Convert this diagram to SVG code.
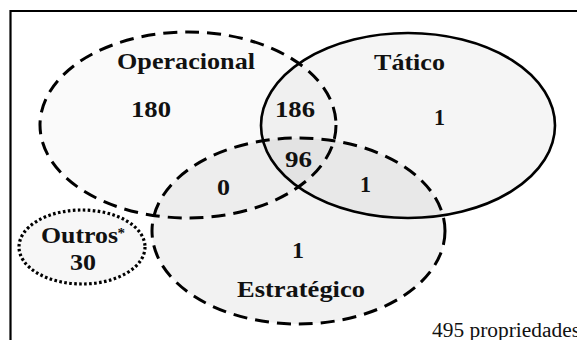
<svg xmlns="http://www.w3.org/2000/svg" width="577" height="340" viewBox="0 0 577 340">
<style>
.fillO{fill:#000;fill-opacity:0.02}
.fillT{fill:#000;fill-opacity:0.04}
.fillE{fill:#000;fill-opacity:0.05}
.fillX{fill:#000;fill-opacity:0.03}
.dash{fill:none;stroke:#000;stroke-width:3;stroke-dasharray:14 8}
.solid{fill:none;stroke:#000;stroke-width:2.6}
.dot{fill:none;stroke:#000;stroke-width:3.2;stroke-dasharray:2.6 2.4}
.lbl{font-family:"Liberation Serif","Times New Roman",serif;font-weight:bold;font-size:23px;fill:#111}
.note{font-family:"Liberation Serif","Times New Roman",serif;font-size:20px;fill:#111}
</style>
<rect width="577" height="340" fill="#fff"/>
<g id="frame">
<path d="M10.5 340 V11 H577" fill="none" stroke="#000" stroke-width="2.2"/>
</g>
<g id="operacional">
<ellipse class="fillO" cx="188" cy="125" rx="148" ry="93"/>
<ellipse class="dash" cx="188" cy="125" rx="148" ry="93"/>
<text class="lbl" x="117" y="69" textLength="138" lengthAdjust="spacingAndGlyphs">Operacional</text>
<text class="lbl" x="131" y="117" textLength="40" lengthAdjust="spacingAndGlyphs">180</text>
</g>
<g id="tatico">
<ellipse class="fillT" cx="408" cy="125.5" rx="147" ry="92.5"/>
<ellipse class="solid" cx="408" cy="125.5" rx="147" ry="92.5"/>
<text class="lbl" x="374" y="70" textLength="71" lengthAdjust="spacingAndGlyphs">Tático</text>
<text class="lbl" x="434" y="125" textLength="11" lengthAdjust="spacingAndGlyphs">1</text>
</g>
<g id="estrategico">
<ellipse class="fillE" cx="298.5" cy="231" rx="146.5" ry="93"/>
<ellipse class="dash" cx="298.5" cy="231" rx="146.5" ry="93"/>
<text class="lbl" x="237" y="297" textLength="128" lengthAdjust="spacingAndGlyphs">Estratégico</text>
<text class="lbl" x="292" y="258" textLength="12" lengthAdjust="spacingAndGlyphs">1</text>
</g>
<g id="intersections">
<text class="lbl" x="275" y="117" textLength="40" lengthAdjust="spacingAndGlyphs">186</text>
<text class="lbl" x="285" y="167" textLength="27" lengthAdjust="spacingAndGlyphs">96</text>
<text class="lbl" x="217" y="195" textLength="13" lengthAdjust="spacingAndGlyphs">0</text>
<text class="lbl" x="360" y="192" textLength="11" lengthAdjust="spacingAndGlyphs">1</text>
</g>
<g id="outros">
<ellipse class="fillX" cx="82" cy="247" rx="63" ry="37"/>
<ellipse class="dot" cx="82" cy="247" rx="63" ry="37"/>
<text class="lbl" x="41" y="243" textLength="77" lengthAdjust="spacingAndGlyphs">Outros</text>
<text class="lbl" x="117.5" y="238" style="font-size:15px">*</text>
<text class="lbl" x="70" y="270" textLength="26" lengthAdjust="spacingAndGlyphs">30</text>
</g>
<g id="total">
<text class="note" x="432" y="337" textLength="148" lengthAdjust="spacingAndGlyphs">495 propriedades</text>
</g>
</svg>
